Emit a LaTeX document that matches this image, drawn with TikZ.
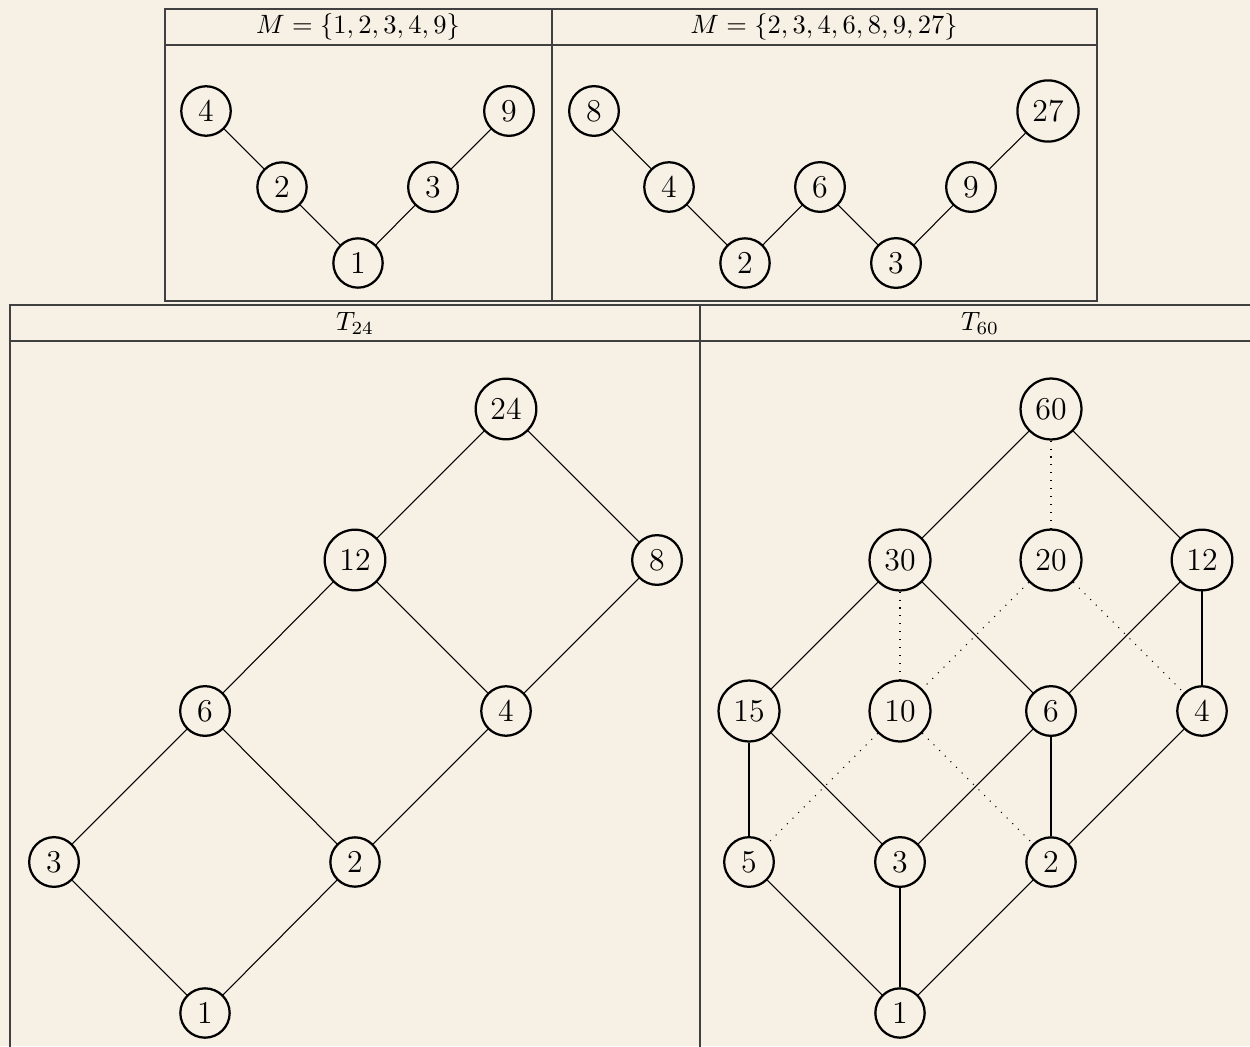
\documentclass[tikz,border=0pt]{standalone}
\definecolor{bgc}{HTML}{F7F1E5}
\begin{document}
\begin{tikzpicture}[x=0.3774pt,y=-0.3774pt,
  v/.style={circle,draw,line width=0.85pt,inner sep=3.1pt,font=\large},
  e/.style={draw,line width=0.4pt},
  d/.style={draw,line width=0.4pt,dash pattern=on 0.4pt off 2.6pt},
  frame/.style={draw,line width=0.5pt,black!75}]
\fill[bgc] (0,0) rectangle (1250,1046);
\useasboundingbox (0,0) rectangle (1250,1046);
\clip (0,0) rectangle (1250,1046);
% top table
\draw[frame] (165,9) rectangle (1097,301);
\draw[frame] (165,45) -- (1097,45);
\draw[frame] (552,9) -- (552,301);
\node (h1) at (358,27) {$M=\{1,2,3,4,9\}$};
\node (h2) at (824,27) {$M=\{2,3,4,6,8,9,27\}$};
% bottom table
\draw[frame] (10,305) rectangle (1262,1070);
\draw[frame] (10,341) -- (1262,341);
\draw[frame] (700,305) -- (700,1070);
\node (h3) at (355,323) {$T_{24}$};
\node (h4) at (980,323) {$T_{60}$};
% top left
\node[v] (a4) at (206,111) {4};
\node[v] (a2) at (282,187) {2};
\node[v] (a1) at (358,263) {1};
\node[v] (a3) at (433,187) {3};
\node[v] (a9) at (509,111) {9};
\draw[e] (a4) -- (a2) -- (a1) -- (a3) -- (a9);
% top right
\node[v] (b8) at (594,111) {8};
\node[v] (b4) at (669,187) {4};
\node[v] (b2) at (745,263) {2};
\node[v] (b6) at (820,187) {6};
\node[v] (b3) at (896,263) {3};
\node[v] (b9) at (971,187) {9};
\node[v] (b27) at (1048,111) {27};
\draw[e] (b8) -- (b4) -- (b2) -- (b6) -- (b3) -- (b9) -- (b27);
% T24
\node[v] (c24) at (506,409) {24};
\node[v] (c12) at (355,560) {12};
\node[v] (c8) at (657,560) {8};
\node[v] (c6) at (205,711) {6};
\node[v] (c4) at (506,711) {4};
\node[v] (c3) at (54,862) {3};
\node[v] (c2) at (355,862) {2};
\node[v] (c1) at (205,1013) {1};
\draw[e] (c24) -- (c12); \draw[e] (c24) -- (c8);
\draw[e] (c12) -- (c6); \draw[e] (c12) -- (c4); \draw[e] (c8) -- (c4);
\draw[e] (c6) -- (c3); \draw[e] (c6) -- (c2); \draw[e] (c4) -- (c2);
\draw[e] (c3) -- (c1); \draw[e] (c2) -- (c1);
% T60
\node[v] (d60) at (1051,409) {60};
\node[v] (d30) at (900,560) {30};
\node[v] (d20) at (1051,560) {20};
\node[v] (d12) at (1202,560) {12};
\node[v] (d15) at (749,711) {15};
\node[v] (d10) at (900,711) {10};
\node[v] (d6) at (1051,711) {6};
\node[v] (d4) at (1202,711) {4};
\node[v] (d5) at (749,862) {5};
\node[v] (d3) at (900,862) {3};
\node[v] (d2) at (1051,862) {2};
\node[v] (d1) at (900,1013) {1};
\draw[e] (d60) -- (d30); \draw[d] (d60) -- (d20); \draw[e] (d60) -- (d12);
\draw[e] (d30) -- (d15); \draw[d] (d30) -- (d10); \draw[e] (d30) -- (d6);
\draw[d] (d20) -- (d10); \draw[d] (d20) -- (d4);
\draw[e] (d12) -- (d6); \draw[e] (d12) -- (d4);
\draw[e] (d15) -- (d5); \draw[e] (d15) -- (d3);
\draw[d] (d10) -- (d5); \draw[d] (d10) -- (d2);
\draw[e] (d6) -- (d3); \draw[e] (d6) -- (d2);
\draw[e] (d4) -- (d2);
\draw[e] (d5) -- (d1); \draw[e] (d3) -- (d1); \draw[e] (d2) -- (d1);
\end{tikzpicture}
\end{document}
